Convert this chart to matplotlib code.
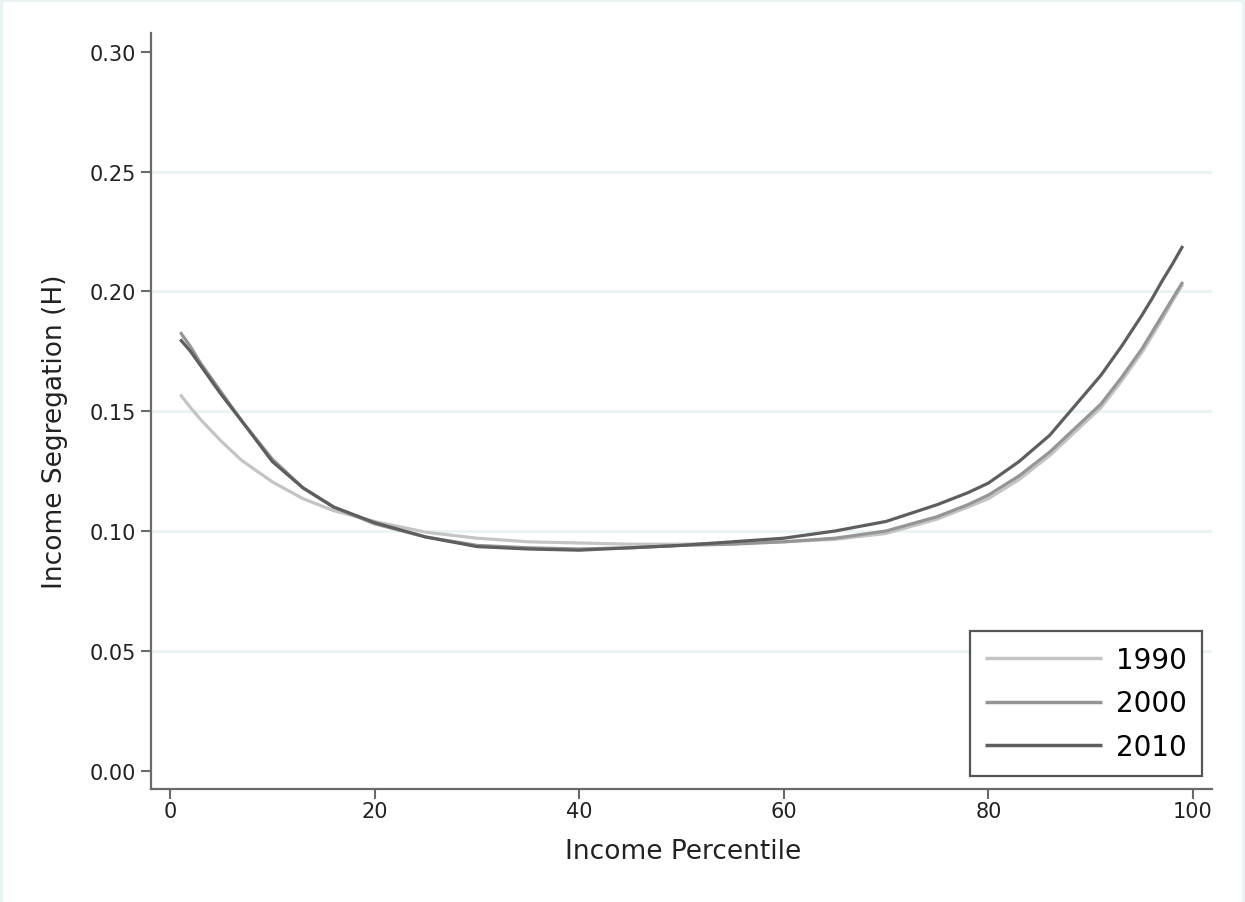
import matplotlib
matplotlib.use('Agg')
import matplotlib.pyplot as plt
from matplotlib.patches import Rectangle

pct = [1, 2, 3, 5, 7, 10, 13, 16, 20, 25, 30, 35, 40, 45, 50, 55, 60, 65,
       70, 75, 78, 80, 83, 86, 89, 91, 93, 95, 96, 97, 98, 99]

seg_1990 = [0.157, 0.1515, 0.1465, 0.1375, 0.1295, 0.1205, 0.1135, 0.1085, 0.104,
            0.0995, 0.097, 0.0955, 0.095, 0.0945, 0.0945, 0.095, 0.0955, 0.0965,
            0.099, 0.105, 0.110, 0.1135, 0.1215, 0.1315, 0.1435, 0.1515, 0.1625,
            0.1745, 0.1815, 0.1885, 0.196, 0.203]

seg_2000 = [0.183, 0.177, 0.170, 0.158, 0.146, 0.130, 0.118, 0.110, 0.103,
            0.0975, 0.094, 0.093, 0.0925, 0.093, 0.094, 0.0945, 0.0955, 0.097,
            0.100, 0.106, 0.111, 0.115, 0.123, 0.133, 0.145, 0.153, 0.164,
            0.176, 0.183, 0.190, 0.197, 0.204]

seg_2010 = [0.180, 0.175, 0.169, 0.157, 0.146, 0.129, 0.118, 0.110, 0.1035,
            0.0975, 0.0935, 0.0925, 0.092, 0.093, 0.094, 0.0955, 0.097, 0.100,
            0.104, 0.111, 0.116, 0.120, 0.129, 0.140, 0.155, 0.165, 0.177,
            0.190, 0.197, 0.2045, 0.2115, 0.219]

years = ['1990', '2000', '2010']
colors = ['#c4c4c4', '#959595', '#5e5e5e']

x_ticks = [0, 20, 40, 60, 80, 100]
y_ticks = [0.00, 0.05, 0.10, 0.15, 0.20, 0.25, 0.30]

W, H = 1245, 903
fig = plt.figure(figsize=(W / 100, H / 100), dpi=100, facecolor='#eaf2f3')
# white inner region, light frame on the edges like the stata export
fig.patches.append(Rectangle((3 / W, 0), (1242 - 3) / W, (H - 3) / H,
                             transform=fig.transFigure, facecolor='white',
                             edgecolor='none', zorder=-10))

ax = fig.add_axes([151 / W, 1 - 790 / H, (1212 - 151) / W, (790 - 34) / H])
ax.set_zorder(5)
ax.set_facecolor('white')

for ys, lab, c in zip([seg_1990, seg_2000, seg_2010], years, colors):
    ax.plot(pct, ys, color=c, lw=2.3, label=lab, solid_capstyle='butt')

ax.set_xlim(-1.86, 101.86)
ax.set_ylim(-0.0077, 0.3079)
ax.set_xticks(x_ticks)
ax.set_yticks(y_ticks)
ax.set_yticklabels(['{0:.2f}'.format(v) for v in y_ticks])

for v in y_ticks[1:-1]:
    ax.axhline(v, color='#eaf2f3', lw=2, zorder=0)

for s in ['top', 'right']:
    ax.spines[s].set_visible(False)
for s in ['left', 'bottom']:
    ax.spines[s].set_color('#6a6a6a')
    ax.spines[s].set_linewidth(1.6)

ax.tick_params(axis='both', colors='#6a6a6a', length=7, width=1.5,
               labelcolor='#222222', labelsize=15)
ax.tick_params(axis='y', pad=4)
ax.tick_params(axis='x', pad=2)

ax.set_xlabel('Income Percentile', fontsize=19, color='#222222', va='center')
ax.set_ylabel('Income Segregation (H)', fontsize=19, color='#222222', va='center')
ax.xaxis.set_label_coords(0.502, -0.082)
ax.yaxis.set_label_coords(-0.0905, 0.474)

leg = ax.legend(loc='lower right', bbox_to_anchor=(0.9906, 0.0172),
                borderaxespad=0, fontsize=20, handlelength=4.2,
                handletextpad=0.5, borderpad=0.55, labelspacing=0.55,
                fancybox=False, framealpha=1)
leg.get_frame().set_edgecolor('#555555')
leg.get_frame().set_linewidth(1.6)
for line in leg.get_lines():
    line.set_linewidth(2.5)

fig.savefig('out.png', dpi=100, facecolor=fig.get_facecolor())
